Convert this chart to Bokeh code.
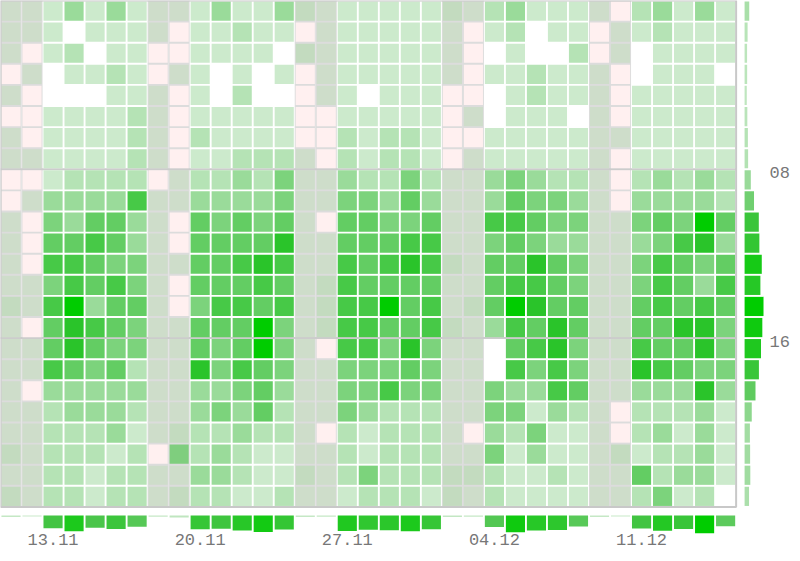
import numpy as np
from bokeh.plotting import figure
from bokeh.models import Range1d, FixedTicker, CustomJSTickFormatter, ColumnDataSource
from bokeh.embed import file_html
from bokeh.resources import INLINE

# ---------------- data ----------------
days = ["11.11", "12.11", "13.11", "14.11", "15.11", "16.11", "17.11", "18.11", "19.11", "20.11",
        "21.11", "22.11", "23.11", "24.11", "25.11", "26.11", "27.11", "28.11", "29.11", "30.11",
        "01.12", "02.12", "03.12", "04.12", "05.12", "06.12", "07.12", "08.12", "09.12", "10.12",
        "11.12", "12.12", "13.12", "14.12", "15.12"]
weekend_days = ["11.11", "12.11", "18.11", "19.11", "25.11", "26.11", "02.12", "03.12", "09.12", "10.12"]
hours = ["00", "01", "02", "03", "04", "05", "06", "07", "08", "09", "10", "11",
         "12", "13", "14", "15", "16", "17", "18", "19", "20", "21", "22", "23"]
week_tick_labels = ["13.11", "20.11", "27.11", "04.12", "11.12"]
hour_tick_labels = ["08", "16"]

# counts per hour (rows) and day (columns)
h00 = [1,1,3,8,3,8,3,1,1,3,8,3,3,8,2,1,3,3,3,3,3,2,1,5,8,3,3,3,1,0,5,8,3,8,3]
h01 = [1,1,3,0,3,3,3,1,0,3,3,5,3,3,0,1,3,3,3,3,3,1,0,3,5,0,3,3,0,1,3,5,3,3,3]
h02 = [1,0,3,5,0,3,3,0,0,3,3,3,3,0,2,1,3,3,3,3,3,1,0,0,3,0,0,5,0,1,0,3,3,3,3]
h03 = [0,1,0,3,3,5,3,0,1,3,0,3,0,3,0,1,3,3,3,3,3,1,0,3,3,5,3,3,1,0,0,3,3,3,0]
h04 = [1,0,0,0,0,3,3,1,0,3,0,5,0,0,0,1,3,0,3,3,3,0,0,0,3,5,3,3,1,0,3,3,3,3,3]
h05 = [0,0,3,3,3,3,5,1,0,3,3,3,3,3,0,0,3,3,3,3,3,0,1,0,3,3,3,0,1,0,3,3,3,3,3]
h06 = [1,0,3,3,3,3,5,1,0,5,3,3,3,3,0,0,5,3,5,5,3,0,0,3,3,3,3,3,1,1,3,3,3,3,3]
h07 = [1,1,3,3,3,3,5,1,0,3,3,5,5,5,1,0,5,3,5,5,3,0,1,3,3,3,3,3,1,0,3,3,3,3,3]
h08 = [0,0,3,5,5,5,5,0,1,5,5,8,5,12,1,1,8,5,5,12,5,1,1,8,12,8,5,5,1,0,5,8,5,8,5]
h09 = [0,1,8,8,8,8,21,1,1,8,8,8,8,12,1,1,12,12,8,16,8,1,1,8,16,12,12,8,1,0,8,8,8,8,5]
h10 = [1,0,12,8,16,16,8,1,0,16,12,16,12,16,1,0,16,16,12,12,16,1,1,21,21,16,12,12,1,1,12,16,12,34,16]
h11 = [1,0,16,16,21,16,8,1,0,16,16,16,16,27,1,1,16,16,16,21,21,1,1,12,16,12,8,8,1,1,8,12,21,27,8]
h12 = [1,0,21,21,16,12,12,1,1,16,16,21,27,21,1,1,21,16,21,27,21,2,1,16,16,27,16,12,1,1,12,21,16,12,16]
h13 = [1,1,12,21,16,21,12,1,0,16,16,16,21,16,1,2,21,16,16,16,16,1,1,16,21,21,16,12,1,1,12,21,16,8,21]
h14 = [2,1,21,34,8,16,16,1,0,12,21,21,16,21,1,2,21,21,34,16,21,1,2,16,34,27,16,16,1,1,16,21,16,21,16]
h15 = [1,0,16,27,21,16,12,1,1,16,16,16,34,12,1,2,21,21,16,16,21,2,1,8,21,16,27,16,1,1,16,16,27,27,12]
h16 = [1,1,16,27,16,12,12,1,1,16,12,16,34,12,1,0,21,21,12,27,12,1,1,0,16,21,27,12,1,1,21,16,16,27,12]
h17 = [1,1,21,16,12,16,5,1,1,27,12,21,16,12,1,1,12,12,12,16,12,1,1,0,21,12,21,12,1,1,27,21,16,12,12]
h18 = [1,0,8,8,8,8,8,1,1,8,8,12,16,8,1,1,12,12,21,12,12,1,1,12,8,8,21,16,1,1,8,8,8,27,8]
h19 = [1,1,5,8,8,8,5,1,1,8,12,8,16,5,1,1,12,8,5,5,5,1,1,12,12,3,8,5,1,0,5,5,5,8,3]
h20 = [1,1,5,5,5,8,3,1,2,5,5,8,5,5,1,0,5,3,5,5,5,1,0,8,5,12,3,3,1,0,5,8,3,8,3]
h21 = [2,1,5,5,5,3,5,0,16,5,8,5,3,3,1,1,5,3,5,5,5,1,1,12,3,8,3,3,1,2,3,5,5,8,3]
h22 = [1,1,5,5,3,5,5,1,1,8,8,5,3,3,2,1,5,12,5,5,5,2,2,5,3,3,5,3,1,1,16,5,8,8,3]
h23 = [2,1,5,5,3,5,5,1,2,5,5,3,3,5,1,1,3,5,5,5,3,2,1,5,3,3,3,3,1,1,5,12,3,5,0]

counts = np.array([h00, h01, h02, h03, h04, h05, h06, h07, h08, h09, h10, h11,
                   h12, h13, h14, h15, h16, h17, h18, h19, h20, h21, h22, h23], dtype=float)

# ---------------- styling helpers ----------------
def ramp(stops, t):
    ts = [s[0] for s in stops]
    rgb = [int(round(np.interp(t, ts, [s[1][i] for s in stops]))) for i in range(3)]
    return "#%02x%02x%02x" % tuple(rgb)

CELL_STOPS = [(0.0, (230, 246, 230)), (0.3, (204, 234, 204)), (0.5, (150, 218, 150)),
              (0.7, (95, 204, 95)), (0.9, (40, 196, 40)), (1.0, (0, 204, 0))]
WKND_STOPS = [(0.0, (214, 224, 210)), (0.17, (206, 221, 202)), (0.3, (186, 217, 182)),
              (0.7, (125, 206, 124)), (1.0, (60, 200, 60))]
BAR_STOPS = [(0.0, (210, 236, 210)), (0.3, (160, 220, 160)), (0.55, (100, 204, 100)),
             (0.7, (70, 196, 70)), (1.0, (0, 204, 0))]

PX = 21.1          # pixels per cell slot
CELL = 0.91        # drawn cell size (fraction of a slot)
n_hours, n_days = counts.shape
vmax = counts.max()
is_weekend = [d in weekend_days for d in days]

xs, ys, cols = [], [], []
for h in range(n_hours):
    for d in range(n_days):
        v = counts[h, d]
        if v == 0:
            c = "#fff0f0" if is_weekend[d] else "#ffffff"
        else:
            t = np.sqrt(v / vmax)
            c = ramp(WKND_STOPS if is_weekend[d] else CELL_STOPS, t)
        xs.append(d + 0.5)
        ys.append(h + 0.5)
        cols.append(c)
cells = ColumnDataSource(dict(x=xs, y=ys, color=cols))

hour_tot = counts.sum(axis=1)
day_tot = counts.sum(axis=0)
hmax, dmax = hour_tot.max(), day_tot.max()
hour_cols = [ramp(BAR_STOPS, v / hmax) for v in hour_tot]
day_cols = [ramp(BAR_STOPS, v / dmax) for v in day_tot]

# layout in canvas pixels
W, H = 792, 553
FR, FB = 770, 533                         # frame right / bottom edge
RBAR0, RBARLEN = 747, 19                  # right bars start / max length
BBAR0, BBARLEN = 515, 18                  # bottom bars start / max length

p = figure(width=W, height=H, output_backend="svg", toolbar_location=None,
           x_range=Range1d(0, FR / PX), y_range=Range1d(FB / PX, 0),
           x_axis_location="below", y_axis_location="right")
p.min_border_left = 0
p.min_border_top = 0
p.min_border_right = W - FR
p.min_border_bottom = H - FB
p.outline_line_color = None
p.grid.visible = False
p.background_fill_color = "white"
p.border_fill_color = "white"

p.extra_x_ranges = {"htot": Range1d(-RBAR0 * hmax / RBARLEN, (FR - RBAR0) * hmax / RBARLEN)}
p.extra_y_ranges = {"dtot": Range1d((FB - BBAR0) * dmax / BBARLEN, -BBAR0 * dmax / BBARLEN)}

# weekend column backgrounds
wk = [i for i, w in enumerate(is_weekend) if w]
p.quad(left=wk, right=[i + 1 for i in wk], top=0, bottom=n_hours,
       fill_color="#dcdcdc", line_color=None)

# hour guide lines at tick hours
hour_tick_vals = [hours.index(s) for s in hour_tick_labels]
p.segment(x0=0, x1=n_days, y0=hour_tick_vals, y1=hour_tick_vals,
          line_color="#cccccc", line_width=2)

# heatmap cells
p.rect(x="x", y="y", width=CELL, height=CELL, fill_color="color",
       line_color=None, source=cells)

# outline
p.quad(left=0, right=n_days, top=0, bottom=n_hours, fill_color=None,
       line_color="#c8c8c8", line_width=2)

# marginal bars
p.hbar(y=[h + 0.5 for h in range(n_hours)], left=0, right=hour_tot, height=CELL,
       x_range_name="htot", fill_color=hour_cols, line_color=None)
p.vbar(x=[d + 0.5 for d in range(n_days)], bottom=0, top=day_tot, width=CELL,
       y_range_name="dtot", fill_color=day_cols, line_color=None)

# axes
xa = p.xaxis[0]
xa.ticker = FixedTicker(ticks=[days.index(s) + 0.5 for s in week_tick_labels])
xa.formatter = CustomJSTickFormatter(args=dict(labels=days), code="return labels[Math.floor(tick)];")
ya = p.yaxis[0]
ya.ticker = FixedTicker(ticks=[v + 0.15 for v in hour_tick_vals])
ya.formatter = CustomJSTickFormatter(args=dict(labels=hours), code="return labels[Math.floor(tick)];")
for ax in (xa, ya):
    ax.axis_line_color = None
    ax.major_tick_line_color = None
    ax.minor_tick_line_color = None
    ax.major_tick_out = 0
    ax.major_tick_in = 0
    ax.minor_tick_out = 0
    ax.minor_tick_in = 0
    ax.major_label_text_font = "Liberation Mono"
    ax.major_label_text_font_size = "17px"
    ax.major_label_text_color = "#777777"
xa.major_label_standoff = 0
ya.major_label_standoff = 2

open("out.html", "w").write(file_html(p, INLINE))
